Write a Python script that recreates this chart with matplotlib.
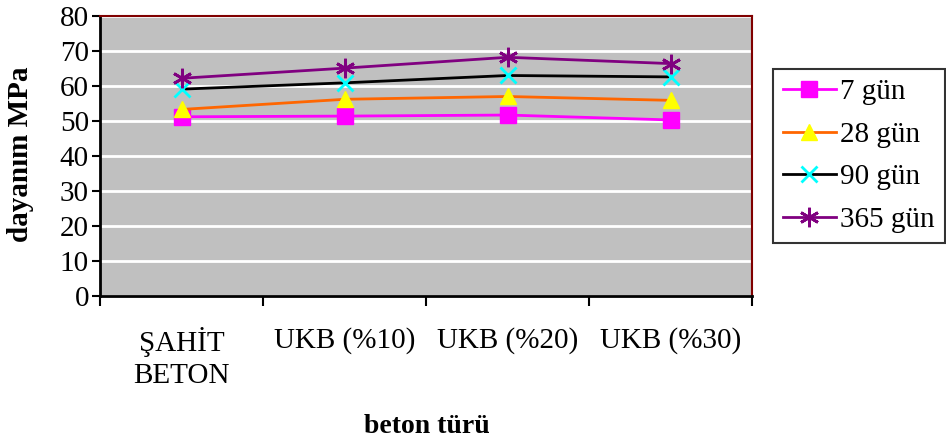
import numpy as np
import matplotlib.pyplot as plt

plt.rcParams['font.family'] = ['Liberation Serif', 'DejaVu Serif']

# Veriler
kategoriler = ["ŞAHİT\nBETON", "UKB (%10)", "UKB (%20)", "UKB (%30)"]
gun_7 = [51.2, 51.4, 51.7, 50.3]
gun_28 = [53.3, 56.2, 57.0, 55.9]
gun_90 = [59.1, 60.9, 63.0, 62.6]
gun_365 = [62.2, 65.1, 68.2, 66.4]

fig = plt.figure(figsize=(9.46, 4.44), dpi=100)
ax = fig.add_axes([0.1057, 0.3333, 0.6893, 0.6307])
ax.set_facecolor('#C0C0C0')

x = np.arange(len(kategoriler)) + 0.5

ax.plot(x, gun_7, color='#FF00FF', lw=2, marker='s', ms=11,
        mfc='#FF00FF', mec='#FF00FF', label='7 gün', zorder=3)
ax.plot(x, gun_28, color='#FF6600', lw=2, marker='^', ms=12,
        mfc='#FFFF00', mec='#FFFF00', label='28 gün', zorder=3)
ax.plot(x, gun_90, color='black', lw=2, marker='x', ms=11, mew=2,
        mec='#00FFFF', label='90 gün', zorder=3)
ax.plot(x, gun_365, color='#800080', lw=2, marker=(6, 2, 0), ms=14, mew=2,
        mec='#800080', label='365 gün', zorder=4)

ax.set_xlim(0, 4)
ax.set_ylim(0, 80)
ax.set_yticks(np.arange(0, 81, 10))
ax.yaxis.grid(True, color='white', lw=2)
ax.set_axisbelow(True)

# x ekseni: işaretler sınırlarda, etiketler ortada
ax.set_xticks(np.arange(0, 5))
ax.set_xticklabels([])
ax.set_xticks(x, minor=True)
ax.set_xticklabels(kategoriler, minor=True, fontsize=21, linespacing=1.3)
ax.tick_params(axis='x', which='minor', length=0, pad=22)
ax.tick_params(axis='x', which='major', direction='out', length=7, width=1.5)
ax.tick_params(axis='y', direction='out', length=6, width=1.5, labelsize=21, pad=2)

for s in ['left', 'bottom']:
    ax.spines[s].set_color('black')
    ax.spines[s].set_linewidth(2)
for s in ['top', 'right']:
    ax.spines[s].set_color('#800000')
    ax.spines[s].set_linewidth(1.5)

fig.text(0.022, 0.653, 'dayanım MPa', fontsize=21, fontweight='bold',
         rotation=90, ha='center', va='center')
fig.text(0.451, 0.025, 'beton türü', fontsize=20, fontweight='bold', ha='center')

leg = fig.legend(loc='upper left', bbox_to_anchor=(0.817, 0.845), fontsize=21,
                 frameon=True, fancybox=False, edgecolor='black',
                 handlelength=1.8, handletextpad=0.15, borderpad=0.35,
                 labelspacing=0.55, borderaxespad=0)
leg.get_frame().set_linewidth(1.5)

fig.savefig('out.png', dpi=100)
